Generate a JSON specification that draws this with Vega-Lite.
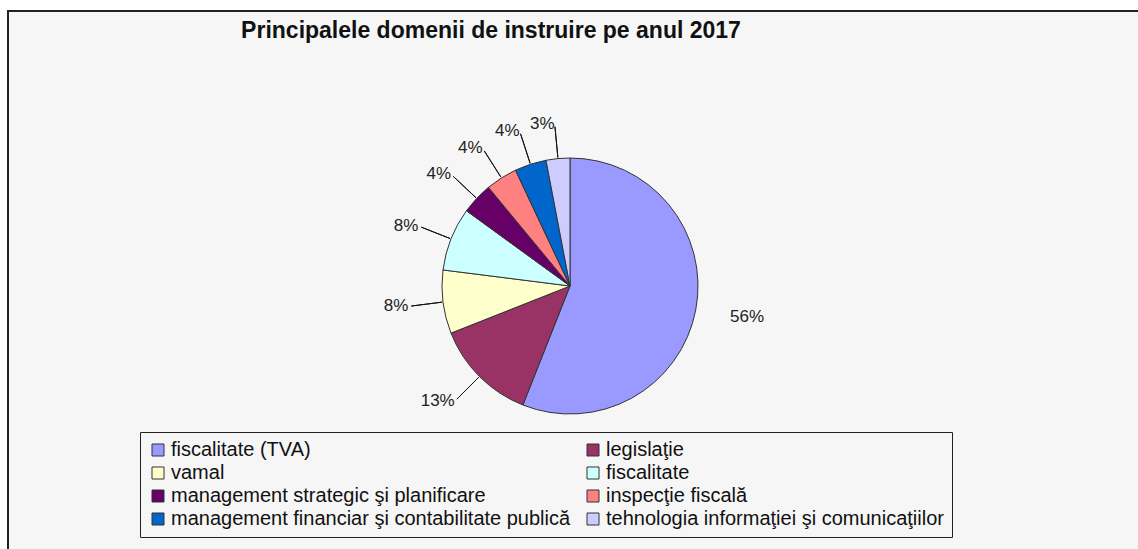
{
  "$schema": "https://vega.github.io/schema/vega-lite/v6.json",
  "width": 1124,
  "height": 550,
  "padding": {"left": 7, "top": 10, "right": 7, "bottom": 0},
  "background": "#ffffff",
  "config": {
    "view": {"stroke": null},
    "font": "Liberation Sans"
  },
  "title": {
    "text": "Principalele domenii de instruire pe anul 2017",
    "fontSize": 23,
    "fontWeight": "bold",
    "font": "Liberation Sans",
    "color": "#111111",
    "anchor": "middle",
    "offset": -33,
    "dx": -79
  },
  "data": {
    "values": [
      {"domeniu": "fiscalitate (TVA)", "procent": 0.56},
      {"domeniu": "legislaţie", "procent": 0.13},
      {"domeniu": "vamal", "procent": 0.08},
      {"domeniu": "fiscalitate", "procent": 0.08},
      {"domeniu": "management strategic şi planificare", "procent": 0.04},
      {"domeniu": "inspecţie fiscală", "procent": 0.04},
      {"domeniu": "management financiar şi contabilitate publică", "procent": 0.04},
      {"domeniu": "tehnologia informaţiei şi comunicaţiilor", "procent": 0.03}
    ]
  },
  "layer": [
    {
      "data": {"values": [{}]},
      "mark": {"type": "rect", "fill": "#f6f6f6", "stroke": "#222222", "strokeWidth": 2, "x2Offset": 20, "y2Offset": 20},
      "encoding": {
        "x": {"value": 0},
        "x2": {"value": "width"},
        "y": {"value": 0},
        "y2": {"value": "height"}
      }
    },
    {
      "mark": {"type": "arc", "outerRadius": 128, "stroke": "#333333", "strokeWidth": 1},
      "encoding": {
        "theta": {"field": "procent", "type": "quantitative", "stack": true},
        "order": {"field": "procent", "type": "quantitative", "sort": "descending"},
        "color": {
          "field": "domeniu",
          "type": "nominal",
          "scale": {
            "domain": [
              "fiscalitate (TVA)",
              "legislaţie",
              "vamal",
              "fiscalitate",
              "management strategic şi planificare",
              "inspecţie fiscală",
              "management financiar şi contabilitate publică",
              "tehnologia informaţiei şi comunicaţiilor"
            ],
            "range": ["#9999ff", "#993366", "#ffffcc", "#ccffff", "#660066", "#ff8080", "#0066cc", "#ccccff"]
          },
          "legend": {
            "title": null,
            "orient": "none",
            "legendX": 132,
            "legendY": 421,
            "direction": "horizontal",
            "columns": 2,
            "gridAlign": "each",
            "symbolType": "square",
            "symbolSize": 144,
            "symbolStrokeColor": "#333333",
            "symbolStrokeWidth": 1,
            "labelFontSize": 20,
            "labelFont": "Liberation Sans",
            "labelColor": "#111111",
            "labelLimit": 800,
            "labelOffset": 3,
            "strokeColor": "#222222",
            "fillColor": "#f6f6f6",
            "padding": 8,
            "rowPadding": 3,
            "columnPadding": 12
          }
        }
      }
    },
    {
      "mark": {
        "type": "arc",
        "innerRadius": 129,
        "outerRadius": 160,
        "padAngle": 3.1416,
        "fill": "transparent",
        "stroke": "#111111",
        "strokeWidth": 1
      },
      "encoding": {
        "theta": {"field": "procent", "type": "quantitative", "stack": true},
        "order": {"field": "procent", "type": "quantitative", "sort": "descending"},
        "detail": {"field": "domeniu", "type": "nominal"},
        "strokeOpacity": {
          "condition": {"test": "datum.domeniu === 'fiscalitate (TVA)'", "value": 0},
          "value": 1
        }
      }
    },
    {
      "mark": {
        "type": "text",
        "radius": 163,
        "fontSize": 17,
        "font": "Liberation Sans",
        "color": "#222222",
        "baseline": "middle",
        "align": {"expr": "datum.domeniu === 'fiscalitate (TVA)' ? 'left' : 'right'"}
      },
      "encoding": {
        "theta": {"field": "procent", "type": "quantitative", "stack": true},
        "order": {"field": "procent", "type": "quantitative", "sort": "descending"},
        "detail": {"field": "domeniu", "type": "nominal"},
        "text": {"field": "procent", "type": "quantitative", "format": ".0%"}
      }
    }
  ]
}
